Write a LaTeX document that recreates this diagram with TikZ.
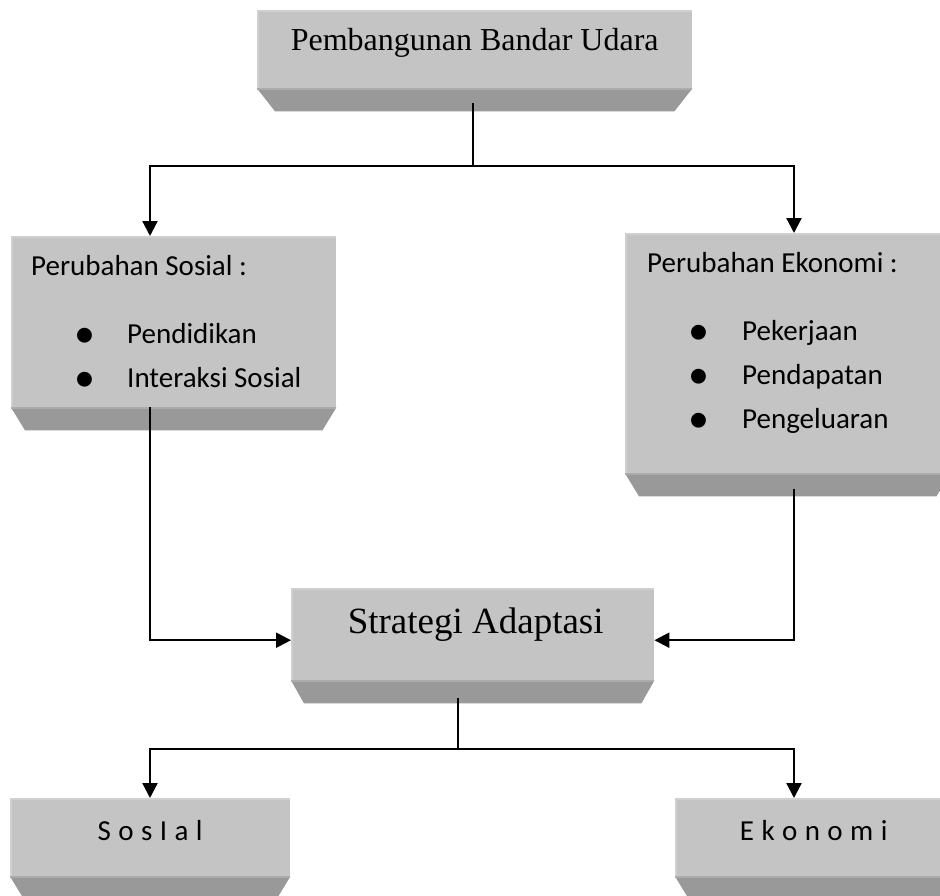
\documentclass[tikz,border=0pt]{standalone}
\usepackage{fontspec}
\setmainfont{Liberation Serif}
\newfontfamily\calibri{Carlito}
\usetikzlibrary{arrows.meta}

\definecolor{muka}{HTML}{C4C4C4}
\definecolor{sisi}{HTML}{999999}
\definecolor{tepi}{HTML}{D0D0D0}
\definecolor{lipat}{HTML}{ABABAB}

\newcommand{\titik}{\makebox[0pt]{\raisebox{-4pt}{\fontsize{42}{42}\selectfont\textbullet}}}

\tikzset{
	kotak/.style={fill=muka, anchor=north west, inner sep=0pt},
	garis/.style={line width=2.2pt},
	panah/.style={garis, -{Triangle[length=15pt,width=15pt]}},
	judul/.style={inner sep=0pt, anchor=base},
	isi/.style={font=\calibri\fontsize{29}{44}\selectfont, inner sep=0pt, anchor=base west},
}

\begin{document}
\begin{tikzpicture}[x=1pt, y=-1pt]
		\def\tebal{23};

		\useasboundingbox (0,0) rectangle (940,895);

		\node[kotak, minimum width=435pt, minimum height=78pt] (pembangunan) at (257,10) {};
		\node[kotak, minimum width=325pt, minimum height=171pt] (sosial) at (11,236) {};
		\node[kotak, minimum width=325pt, minimum height=240pt] (ekonomi) at (625,233) {};
		\node[kotak, minimum width=363pt, minimum height=92pt] (strategi) at (291,588) {};
		\node[kotak, minimum width=280pt, minimum height=78pt] (hasilsos) at (10,798) {};
		\node[kotak, minimum width=277pt, minimum height=78pt] (hasileko) at (675,798) {};

		\foreach \n/\s in {pembangunan/18, sosial/14, ekonomi/14, strategi/13, hasilsos/14, hasileko/14}{
			\fill[sisi] (\n.south west) -- (\n.south east)
				-- ([xshift=-\s pt, yshift=-\tebal pt]\n.south east)
				-- ([xshift=\s pt, yshift=-\tebal pt]\n.south west) -- cycle;
			\draw[lipat, line width=1.5pt] ([yshift=-0.75pt]\n.south west) -- ([yshift=-0.75pt]\n.south east);
			\draw[tepi, line width=2pt] ([xshift=1pt]\n.south west) -- ([xshift=1pt, yshift=-1pt]\n.north west)
				-- ([yshift=-1pt]\n.north east);
		}

		\node[judul, font=\fontsize{32}{38}\selectfont] (tpembangunan) at ([yshift=-40pt]pembangunan.north) {Pembangunan Bandar Udara};
		\node[judul, font=\fontsize{37}{44}\selectfont] (tstrategi) at ([xshift=3pt, yshift=-45pt]strategi.north) {Strategi Adaptasi};

		\node[isi] (tsosial) at ([xshift=20pt, yshift=-39pt]sosial.north west) {Perubahan Sosial :};
		\node[isi] (lsosial) at (85,343) {\begin{tabular}[t]{@{}l@{}}
			\titik\hspace{42pt}Pendidikan\\
			\titik\hspace{42pt}Interaksi Sosial
		\end{tabular}};

		\node[isi] (tekonomi) at ([xshift=22pt, yshift=-39pt]ekonomi.north west) {Perubahan Ekonomi :};
		\node[isi] (lekonomi) at (699,340) {\begin{tabular}[t]{@{}l@{}}
			\titik\hspace{43pt}Pekerjaan\\
			\titik\hspace{43pt}Pendapatan\\
			\titik\hspace{43pt}Pengeluaran
		\end{tabular}};

		\node[isi, anchor=base, font=\calibri\fontsize{29}{44}\selectfont\addfontfeatures{LetterSpace=3}] (thasilsos) at ([yshift=-42pt]hasilsos.north) {S o s I a l};
		\node[isi, anchor=base, font=\calibri\fontsize{29}{44}\selectfont\addfontfeatures{LetterSpace=3}] (thasileko) at ([yshift=-42pt]hasileko.north) {E k o n o m i};

		\coordinate (pangkal1) at (473,103);
		\coordinate (kiri1) at (150,166);
		\coordinate (kanan1) at (794,166);
		\coordinate (pangkal2) at (458,698);
		\coordinate (kiri2) at (150,749);
		\coordinate (kanan2) at (794,749);

		\draw[panah] (pangkal1) |- (kiri1) -- (kiri1 |- sosial.north);
		\draw[panah] (pangkal1) |- (kanan1) -- (kanan1 |- ekonomi.north);

		\draw[panah] (kiri1 |- sosial.south) |- ([yshift=-6pt]strategi.west);
		\draw[panah] ([yshift=-16pt]kanan1 |- ekonomi.south) |- ([yshift=-6pt]strategi.east);

		\draw[panah] (pangkal2) |- (kiri2) -- (kiri2 |- hasilsos.north);
		\draw[panah] (pangkal2) |- (kanan2) -- (kanan2 |- hasileko.north);
	\end{tikzpicture}
\end{document}
